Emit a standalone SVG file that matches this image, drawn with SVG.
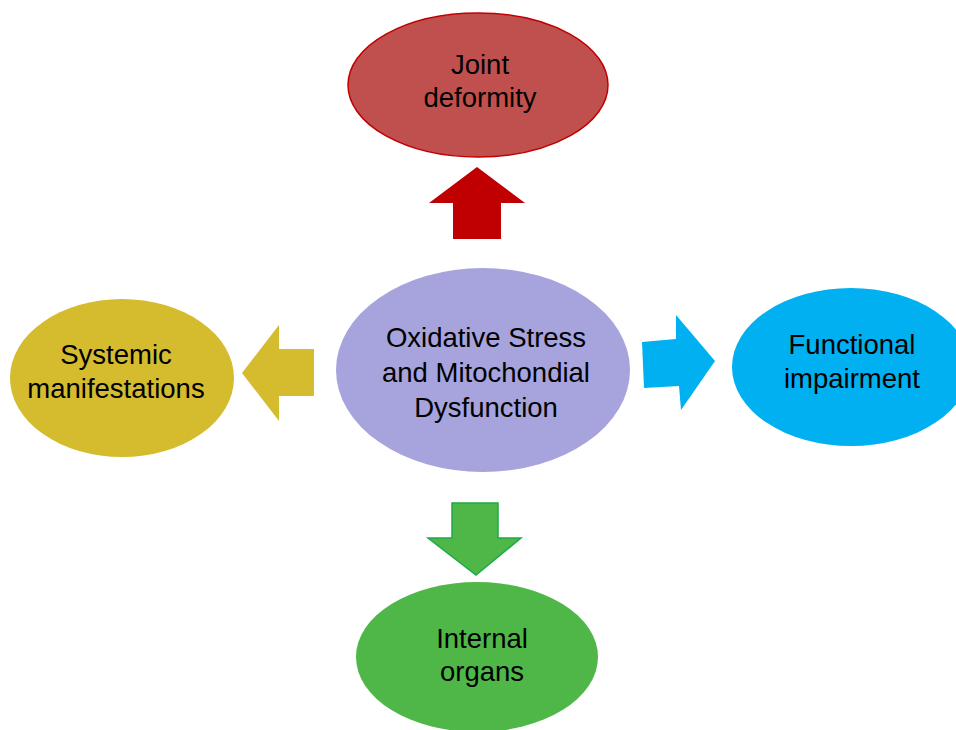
<svg xmlns="http://www.w3.org/2000/svg" width="956" height="730" viewBox="0 0 956 730">
<style>
  text { font-family: "Liberation Sans", Arial, sans-serif; font-size: 27.5px; fill: #000; text-anchor: middle; }
</style>
<rect width="956" height="730" fill="#ffffff"/>
<g id="connectors">
  <polygon id="arrow-up" points="477,167 525,203 501,203 501,239 453,239 453,203 429,203" fill="#c00000"/>
  <polygon id="arrow-left" points="242,373 279,325 279,349 314,349 314,396 279,396 279,421" fill="#d5bb2e"/>
  <polygon id="arrow-right" points="642,342 676,339 676,315 715,361 681,410 679,386 644,388" fill="#00b0f0"/>
  <polygon id="arrow-down" points="452,503 498,503 498,538 521,538 476,575 428,538 452,538" fill="#4fb748" stroke="#1faa4a" stroke-width="1.5"/>
</g>
<g id="joint-deformity">
  <ellipse cx="478" cy="85" rx="130" ry="72" fill="#c0504d" stroke="#c00000" stroke-width="1.5"/>
  <text x="480" y="74">Joint</text>
  <text x="480" y="107">deformity</text>
</g>
<g id="systemic-manifestations">
  <ellipse cx="122" cy="378" rx="112" ry="79" fill="#d5bb2e"/>
  <text x="116" y="364">Systemic</text>
  <text x="116" y="398">manifestations</text>
</g>
<g id="oxidative-stress">
  <ellipse cx="483" cy="370" rx="147" ry="102" fill="#a6a3dd"/>
  <text x="486" y="347">Oxidative Stress</text>
  <text x="486" y="382">and Mitochondial</text>
  <text x="486" y="417">Dysfunction</text>
</g>
<g id="functional-impairment">
  <ellipse cx="851" cy="367" rx="119" ry="79" fill="#00b0f0"/>
  <text x="852" y="354">Functional</text>
  <text x="852" y="388">impairment</text>
</g>
<g id="internal-organs">
  <ellipse cx="477" cy="657" rx="121" ry="75" fill="#4fb748"/>
  <text x="482" y="648">Internal</text>
  <text x="482" y="681">organs</text>
</g>
</svg>
